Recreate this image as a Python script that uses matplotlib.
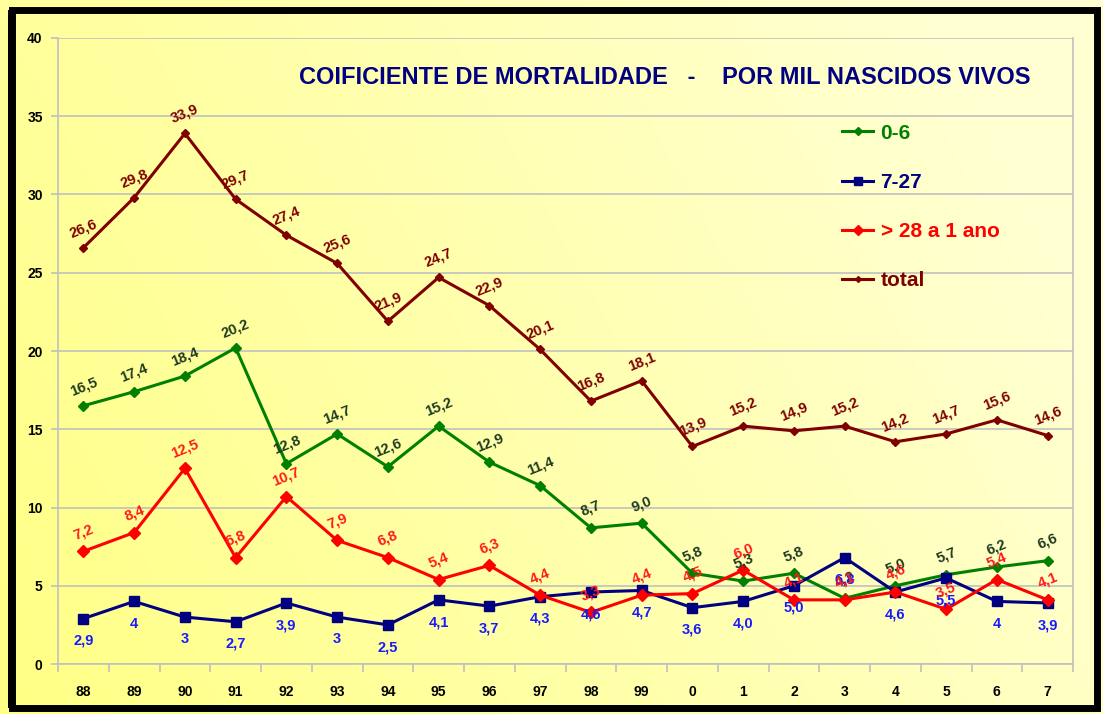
import matplotlib
matplotlib.use("Agg")
import matplotlib.pyplot as plt
import numpy as np
from matplotlib.patches import Rectangle
from matplotlib.lines import Line2D

plt.rcParams["font.family"] = ["Liberation Sans", "DejaVu Sans"]
plt.rcParams["font.weight"] = "bold"

years = ["88", "89", "90", "91", "92", "93", "94", "95", "96", "97",
         "98", "99", "0", "1", "2", "3", "4", "5", "6", "7"]
neo_precoce = [16.5, 17.4, 18.4, 20.2, 12.8, 14.7, 12.6, 15.2, 12.9, 11.4,
               8.7, 9.0, 5.8, 5.3, 5.8, 4.2, 5.0, 5.7, 6.2, 6.6]
neo_tardia = [2.9, 4, 3, 2.7, 3.9, 3, 2.5, 4.1, 3.7, 4.3,
              4.6, 4.7, 3.6, 4.0, 5.0, 6.8, 4.6, 5.5, 4, 3.9]
pos_neo = [7.2, 8.4, 12.5, 6.8, 10.7, 7.9, 6.8, 5.4, 6.3, 4.4,
           3.3, 4.4, 4.5, 6.0, 4.1, 4.1, 4.6, 3.5, 5.4, 4.1]
total = [26.6, 29.8, 33.9, 29.7, 27.4, 25.6, 21.9, 24.7, 22.9, 20.1,
         16.8, 18.1, 13.9, 15.2, 14.9, 15.2, 14.2, 14.7, 15.6, 14.6]
# labels as printed on the original (some without decimals)
neo_tardia_txt = ["2,9", "4", "3", "2,7", "3,9", "3", "2,5", "4,1", "3,7", "4,3",
                  "4,6", "4,7", "3,6", "4,0", "5,0", "6,8", "4,6", "5,5", "4", "3,9"]

fig = plt.figure(figsize=(11.03, 7.14), dpi=100)

# yellow gradient background
bg = fig.add_axes([0, 0, 1, 1], zorder=-10)
grad = np.linspace(0, 1, 256)
gx, gy = np.meshgrid(grad, grad)
t = np.clip(0.85 * gx + 0.3 * (1 - gy), 0, 1)
c0 = np.array([1.0, 1.0, 0.52])
c1 = np.array([1.0, 1.0, 0.82])
img = c0[None, None, :] * (1 - t[..., None]) + c1[None, None, :] * t[..., None]
bg.imshow(img, aspect="auto", extent=[0, 1, 0, 1], origin="upper")
bg.set_axis_off()
fig.patches.append(Rectangle((0.0105, 0.008), 0.984, 0.978, transform=fig.transFigure,
                             fill=False, edgecolor="black", linewidth=5, zorder=20))
fig.patches.append(Rectangle((0.0075, 0.008), 0.006, 0.978, transform=fig.transFigure,
                             facecolor="black", edgecolor="none", zorder=20))

ax = fig.add_axes([0.0526, 0.070, 0.9202, 0.8768])
ax.set_facecolor("none")
x = np.arange(len(years))

series = [
    (neo_precoce, "0-6", "#008000", "D", 5, "#1f3a1f", 22, 14),
    (neo_tardia, "7-27", "#000080", "s", 7, "#1a1aff", 0, -16),
    (pos_neo, "> 28 a 1 ano", "#ff0000", "D", 6, "#ff1a1a", 22, 14),
    (total, "total", "#800000", "D", 4, "#800000", 22, 14),
]
for vals, name, col, mk, ms, lcol, rot, dy in series:
    ax.plot(x, vals, color=col, linewidth=2.2, marker=mk, markersize=ms,
            markerfacecolor=col, markeredgecolor=col, zorder=3)

for vals, name, col, mk, ms, lcol, rot, dy in series:
    for i, v in enumerate(vals):
        txt = neo_tardia_txt[i] if name == "7-27" else f"{v:.1f}".replace(".", ",")
        ax.annotate(txt, (x[i], v), xytext=(0, dy), textcoords="offset points",
                    ha="center", va="center", rotation=rot, color=lcol,
                    fontsize=10.5, fontweight="bold", zorder=5)

ax.set_xlim(-0.5, len(years) - 0.5)
ax.set_ylim(0, 40)
ax.set_yticks(range(0, 41, 5))
ax.yaxis.grid(True, color="#c0c0c0", linewidth=1.2)
ax.set_axisbelow(True)
ax.set_xticks(x)
ax.set_xticklabels(years)
ax.set_xticks(np.arange(-0.5, len(years), 1), minor=True)
ax.tick_params(axis="x", which="major", length=0, pad=15, labelsize=10)
ax.tick_params(axis="x", which="minor", length=6, color="#c0c0c0", width=1.2)
ax.tick_params(axis="y", length=5, color="#c0c0c0", width=1.2, labelsize=10, pad=6)
for lab in ax.get_xticklabels() + ax.get_yticklabels():
    lab.set_fontweight("bold")
for s in ["left", "right", "bottom"]:
    ax.spines[s].set_color("#c0c0c0")
    ax.spines[s].set_linewidth(1.2)
ax.spines["top"].set_visible(False)

fig.text(0.603, 0.892, "COIFICIENTE DE MORTALIDADE   -    POR MIL NASCIDOS VIVOS",
         ha="center", va="center", color="#000080", fontsize=17, fontweight="bold")

handles = [Line2D([0], [0], color=c, marker=m, markersize=ms - 1, linewidth=2.2)
           for _, _, c, m, ms, _, _, _ in series]
leg = ax.legend(handles, [s[1] for s in series], loc="upper left",
                bbox_to_anchor=(0.754, 0.893), frameon=False, fontsize=15,
                labelspacing=1.45, handlelength=1.5, handletextpad=0.35)
for t_, s in zip(leg.get_texts(), series):
    t_.set_color(s[2])
    t_.set_fontweight("bold")

fig.savefig("out.png", dpi=100)
